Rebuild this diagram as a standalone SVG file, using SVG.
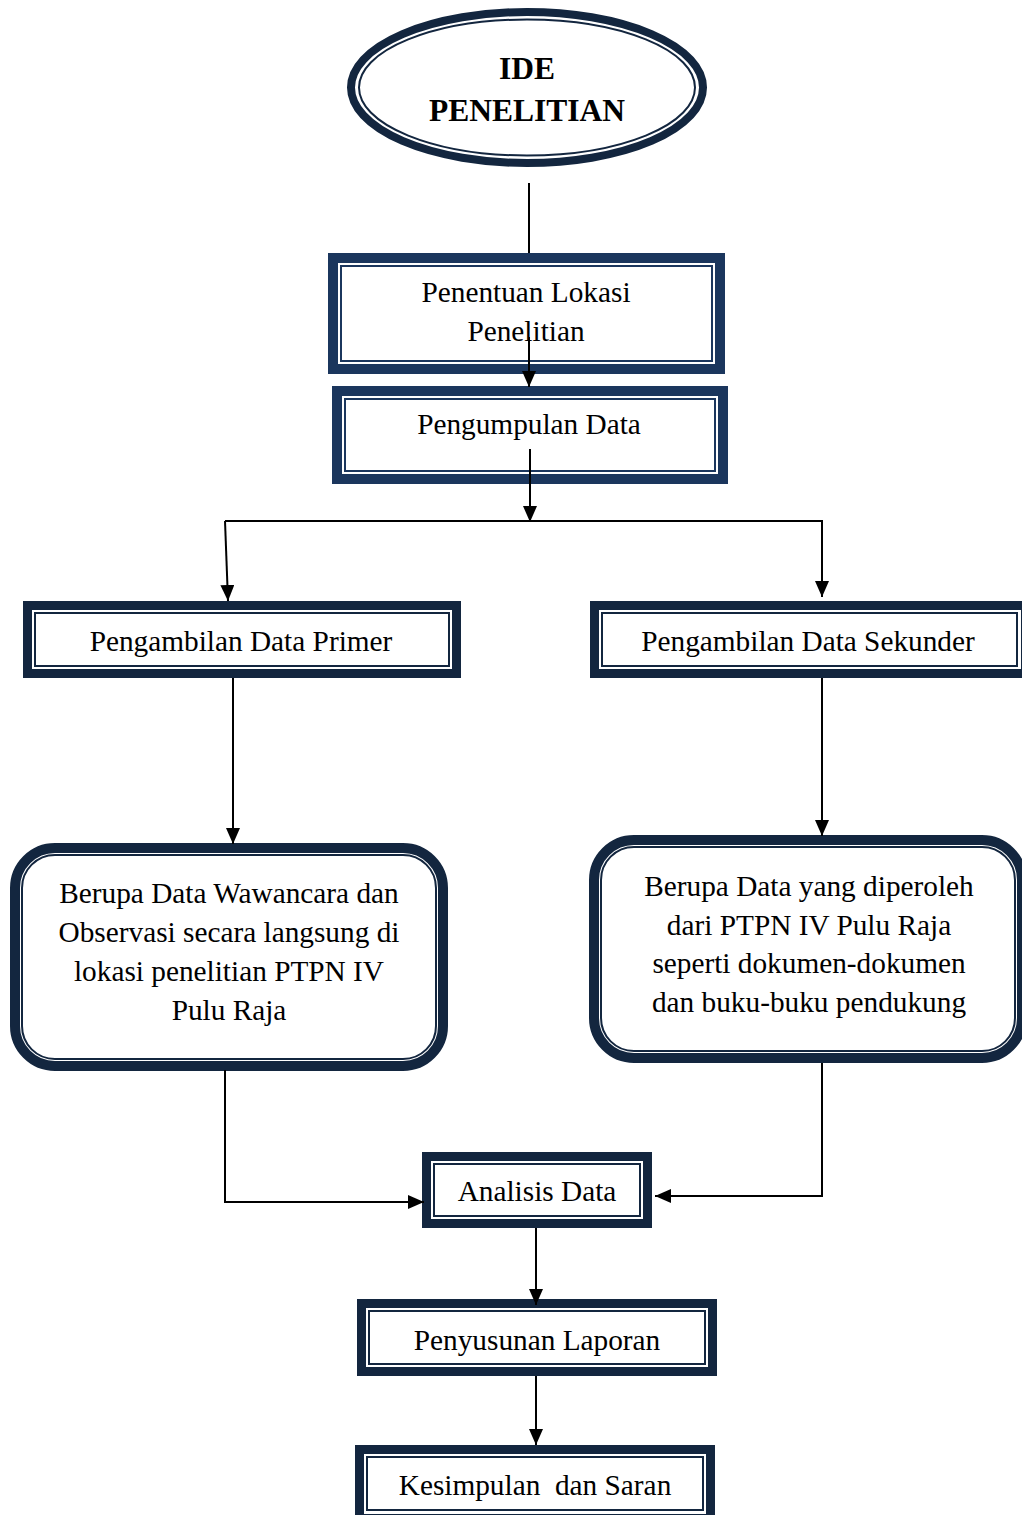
<svg xmlns="http://www.w3.org/2000/svg" width="1022" height="1515" viewBox="0 0 1022 1515">
<defs>
<style>
.thick{fill:#ffffff;stroke:#13263f;stroke-width:9}
.thin{fill:none;stroke:#13263f;stroke-width:2}
.blue .thick,.blue .thin{stroke:#1b365d}
.t{font-family:"Liberation Serif","Times New Roman",serif;font-size:29.3px;fill:#000;text-anchor:middle}
.b{font-weight:bold;font-size:31.5px}
.c{fill:none;stroke:#000;stroke-width:2}
</style>
<marker id="ah" markerUnits="userSpaceOnUse" markerWidth="16" markerHeight="14" refX="16" refY="7" orient="auto">
<path d="M0,0 L16,7 L0,14 z" fill="#000"/>
</marker>
</defs>
<rect width="1022" height="1515" fill="#ffffff"/>

<g id="ide">
<ellipse class="thick" cx="527" cy="87.5" rx="176" ry="75.5" style="stroke-width:8"/>
<ellipse class="thin" cx="527" cy="87.5" rx="168" ry="68"/>
<text class="t b" x="527" y="79">IDE</text>
<text class="t b" x="527" y="121">PENELITIAN</text>
</g>

<g id="lokasi" class="blue">
<rect class="thick" x="333" y="258" width="387" height="111" style="stroke-width:10"/>
<rect class="thin" x="341" y="266" width="371" height="95"/>
<text class="t" x="526" y="302">Penentuan Lokasi</text>
<text class="t" x="526" y="341">Penelitian</text>
</g>

<g id="pengumpulan" class="blue">
<rect class="thick" x="337" y="391" width="386" height="88" style="stroke-width:10"/>
<rect class="thin" x="345" y="399" width="370" height="72"/>
<text class="t" x="529" y="434">Pengumpulan Data</text>
</g>

<g id="primer">
<rect class="thick" x="27.5" y="605.5" width="429" height="68"/>
<rect class="thin" x="35" y="613" width="414" height="53"/>
<text class="t" x="241" y="651">Pengambilan Data Primer</text>
</g>

<g id="sekunder">
<rect class="thick" x="594.5" y="605.5" width="431" height="68"/>
<rect class="thin" x="602" y="613" width="415" height="53"/>
<text class="t" x="808" y="651">Pengambilan Data Sekunder</text>
</g>

<g id="wawancara">
<rect class="thick" x="15" y="848" width="428" height="218" rx="40" style="stroke-width:10"/>
<rect class="thin" x="22" y="855" width="414" height="204" rx="33"/>
<text class="t" x="229" y="903">Berupa Data Wawancara dan</text>
<text class="t" x="229" y="942">Observasi secara langsung di</text>
<text class="t" x="229" y="981">lokasi penelitian PTPN IV</text>
<text class="t" x="229" y="1020">Pulu Raja</text>
</g>

<g id="dokumen">
<rect class="thick" x="594" y="840" width="428" height="218" rx="40" style="stroke-width:10"/>
<rect class="thin" x="601" y="847" width="414" height="204" rx="33"/>
<text class="t" x="809" y="896">Berupa Data yang diperoleh</text>
<text class="t" x="809" y="935">dari PTPN IV Pulu Raja</text>
<text class="t" x="809" y="973">seperti dokumen-dokumen</text>
<text class="t" x="809" y="1012">dan buku-buku pendukung</text>
</g>

<g id="analisis">
<rect class="thick" x="426.5" y="1156.5" width="221" height="67"/>
<rect class="thin" x="434" y="1164" width="206" height="52"/>
<text class="t" x="537" y="1201">Analisis Data</text>
</g>

<g id="laporan">
<rect class="thick" x="361.5" y="1303.5" width="351" height="68"/>
<rect class="thin" x="369" y="1311" width="336" height="53"/>
<text class="t" x="537" y="1350">Penyusunan Laporan</text>
</g>

<g id="kesimpulan">
<rect class="thick" x="359.5" y="1449.5" width="351" height="69"/>
<rect class="thin" x="367" y="1457" width="336" height="53"/>
<text class="t" x="535" y="1495">Kesimpulan&#160; dan Saran</text>
</g>

<g id="connectors">
<path class="c" d="M529,183 L529,253"/>
<path class="c" d="M529,337 L529,387" marker-end="url(#ah)"/>
<path class="c" d="M530,449 L530,522" marker-end="url(#ah)"/>
<path class="c" d="M225,521 L228,601" marker-end="url(#ah)"/>
<path class="c" d="M225,521 L822,521 L822,597" marker-end="url(#ah)"/>
<path class="c" d="M233,678 L233,844" marker-end="url(#ah)"/>
<path class="c" d="M822,678 L822,836" marker-end="url(#ah)"/>
<path class="c" d="M225,1070 L225,1202 L424,1202" marker-end="url(#ah)"/>
<path class="c" d="M822,1063 L822,1196 L655,1196" marker-end="url(#ah)"/>
<path class="c" d="M536,1228 L536,1305" marker-end="url(#ah)"/>
<path class="c" d="M536,1376 L536,1445" marker-end="url(#ah)"/>
</g>
</svg>
